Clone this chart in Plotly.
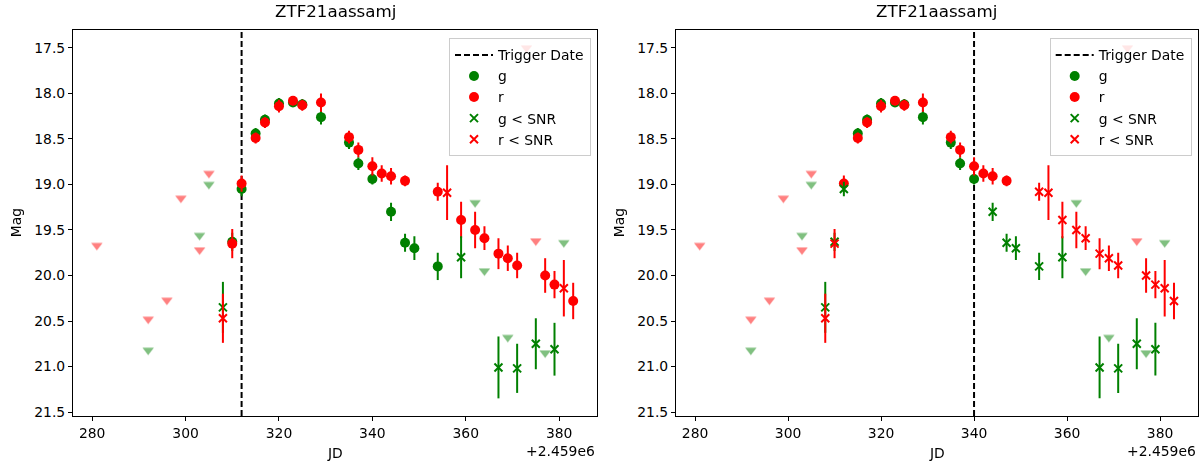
import plotly.graph_objects as go

# ---------------- data ----------------
OBJECT_NAME = "ZTF21aassamj"
OFFSET_TEXT = "+2.459e6"          # JD offset shown by the axis
TRIGGER_JD = [312, 340]           # trigger date for left / right panel (JD - 2459000)

# g-band measurements (JD - 2459000, mag, error)
g_jd  = [308, 310, 312, 315, 317, 320, 323, 325, 329, 335, 337, 340, 344, 347, 349, 354, 359, 367, 371, 375, 379]
g_mag = [20.35, 19.63, 19.05, 18.44, 18.29, 18.11, 18.10, 18.12, 18.26, 18.54, 18.77, 18.94, 19.30, 19.64, 19.70, 19.90, 19.80, 21.01, 21.02, 20.75, 20.81]
g_err = [0.28, 0.10, 0.08, 0.06, 0.06, 0.06, 0.05, 0.06, 0.08, 0.07, 0.07, 0.06, 0.10, 0.10, 0.13, 0.15, 0.23, 0.34, 0.27, 0.28, 0.29]

# r-band measurements
r_jd  = [308, 310, 312, 315, 317, 320, 323, 325, 329, 335, 337, 340, 342, 344, 347, 354, 356, 359, 362, 364, 367, 369, 371, 377, 379, 381, 383]
r_mag = [20.47, 19.65, 18.99, 18.49, 18.32, 18.14, 18.08, 18.13, 18.10, 18.48, 18.62, 18.80, 18.88, 18.91, 18.96, 19.08, 19.09, 19.39, 19.50, 19.59, 19.76, 19.81, 19.89, 20.00, 20.10, 20.14, 20.28]
r_err = [0.27, 0.16, 0.09, 0.06, 0.06, 0.07, 0.05, 0.06, 0.10, 0.07, 0.08, 0.10, 0.09, 0.09, 0.06, 0.10, 0.30, 0.20, 0.20, 0.13, 0.17, 0.14, 0.14, 0.19, 0.15, 0.31, 0.20]

# upper limits (non-detections)
g_lim_jd  = [292, 303, 305, 362, 364, 369, 377, 381]
g_lim_mag = [20.82, 19.56, 19.00, 19.20, 19.95, 20.68, 20.85, 19.64]
r_lim_jd  = [281, 292, 296, 299, 303, 305, 373, 375]
r_lim_mag = [19.67, 20.48, 20.27, 19.15, 19.72, 18.88, 17.50, 19.62]

# epochs flagged "< SNR" in each panel
g_low = [
    [308, 359, 367, 371, 375, 379],
    [308, 310, 312, 344, 347, 349, 354, 359, 367, 371, 375, 379],
]
r_low = [
    [308, 356, 381],
    [308, 310, 354, 356, 359, 362, 364, 367, 369, 371, 377, 379, 381, 383],
]

X_TICKS = [280, 300, 320, 340, 360, 380]
Y_TICKS = [17.5, 18.0, 18.5, 19.0, 19.5, 20.0, 20.5, 21.0, 21.5]

# ---------------- styling ----------------
W, H = 1199, 465
FONT = "DejaVu Sans"
FS = 13.9
GREEN = "#008000"
RED = "#ff0000"

X_DOMAINS = [[73 / W, 597 / W], [676 / W, 1197.7 / W]]
Y_DOMAIN = [1 - 419.5 / H, 1 - 30.7 / H]

# axis ranges like matplotlib autoscale (5% margins)
all_x = g_jd + r_jd + g_lim_jd + r_lim_jd
xmin, xmax = min(all_x), max(all_x)
xm = 0.05 * (xmax - xmin)
x_range = [xmin - xm, xmax + xm]
ylo_vals = [m - e for m, e in zip(g_mag, g_err)] + [m - e for m, e in zip(r_mag, r_err)] + g_lim_mag + r_lim_mag
yhi_vals = [m + e for m, e in zip(g_mag, g_err)] + [m + e for m, e in zip(r_mag, r_err)] + g_lim_mag + r_lim_mag
ymin, ymax = min(ylo_vals), max(yhi_vals)
ym = 0.05 * (ymax - ymin)
y_range = [ymax + ym, ymin - ym]   # reversed (magnitudes)


def split(jd, mag, err, low):
    hi = [(j, m, e) for j, m, e in zip(jd, mag, err) if j not in low]
    lo = [(j, m, e) for j, m, e in zip(jd, mag, err) if j in low]
    return hi, lo


fig = go.Figure()

for p in range(2):
    xa = "x" if p == 0 else "x2"
    ya = "y" if p == 0 else "y2"
    leg = "legend" if p == 0 else "legend2"

    fig.add_trace(go.Scatter(
        x=[TRIGGER_JD[p], TRIGGER_JD[p]], y=[y_range[0], y_range[1]],
        mode="lines", line=dict(color="black", width=2, dash="6px,3px"),
        name="Trigger Date", xaxis=xa, yaxis=ya, legend=leg, hoverinfo="skip"))

    g_hi, g_lo = split(g_jd, g_mag, g_err, g_low[p])
    r_hi, r_lo = split(r_jd, r_mag, r_err, r_low[p])

    for pts, col, name in [(g_hi, GREEN, "g"), (r_hi, RED, "r")]:
        fig.add_trace(go.Scatter(
            x=[a[0] for a in pts], y=[a[1] for a in pts], mode="markers",
            marker=dict(symbol="circle", size=10, color=col),
            error_y=dict(type="data", array=[a[2] for a in pts], visible=True,
                         thickness=2, width=0, color=col),
            name=name, xaxis=xa, yaxis=ya, legend=leg))

    for pts, col, name in [(g_lo, GREEN, "g < SNR"), (r_lo, RED, "r < SNR")]:
        fig.add_trace(go.Scatter(
            x=[a[0] for a in pts], y=[a[1] for a in pts], mode="markers",
            marker=dict(symbol="x-thin", size=8, color=col, line=dict(width=2, color=col)),
            error_y=dict(type="data", array=[a[2] for a in pts], visible=True,
                         thickness=2, width=0, color=col),
            name=name, xaxis=xa, yaxis=ya, legend=leg))

    for jd, mag, col in [(g_lim_jd, g_lim_mag, GREEN), (r_lim_jd, r_lim_mag, RED)]:
        fig.add_trace(go.Scatter(
            x=jd, y=mag, mode="markers",
            marker=dict(symbol="triangle-down", size=10, color=col),
            opacity=0.5, showlegend=False, xaxis=xa, yaxis=ya))

axis_common = dict(showline=True, linecolor="black", linewidth=1, mirror=True,
                   ticks="outside", ticklen=4, tickwidth=1, tickcolor="black",
                   showgrid=False, zeroline=False,
                   tickfont=dict(family=FONT, size=FS, color="black"))

layout_axes = {}
for p in range(2):
    sx = "" if p == 0 else "2"
    layout_axes["xaxis" + sx] = dict(domain=X_DOMAINS[p], range=x_range, anchor="y" + sx,
                                     tickvals=X_TICKS, **axis_common)
    layout_axes["yaxis" + sx] = dict(domain=Y_DOMAIN, range=y_range, anchor="x" + sx,
                                     tickvals=Y_TICKS, tickformat=".1f", **axis_common)

annotations = []
for p in range(2):
    x0, x1 = X_DOMAINS[p]
    cx = (x0 + x1) / 2
    annotations.append(dict(text=OBJECT_NAME, x=cx, y=1 - 23 / H, xref="paper", yref="paper",
                            xanchor="center", yanchor="bottom", showarrow=False,
                            font=dict(family=FONT, size=16.7, color="black")))
    annotations.append(dict(text="JD", x=cx, y=1 - 457 / H, xref="paper", yref="paper",
                            xanchor="center", yanchor="middle", showarrow=False,
                            font=dict(family=FONT, size=FS, color="black")))
    annotations.append(dict(text=OFFSET_TEXT, x=x1, y=1 - 455 / H, xref="paper", yref="paper",
                            xanchor="right", yanchor="middle", showarrow=False,
                            font=dict(family=FONT, size=FS, color="black")))
    annotations.append(dict(text="Mag", x=x0 - 57 / W, y=(Y_DOMAIN[0] + Y_DOMAIN[1]) / 2,
                            xref="paper", yref="paper", textangle=-90,
                            xanchor="center", yanchor="middle", showarrow=False,
                            font=dict(family=FONT, size=FS, color="black")))

legend_common = dict(xanchor="right", yanchor="top", bgcolor="rgba(255,255,255,0.8)",
                     bordercolor="#cccccc", borderwidth=1,
                     font=dict(family=FONT, size=FS, color="black"),
                     itemwidth=38, tracegroupgap=0)

fig.update_layout(
    width=W, height=H,
    margin=dict(l=0, r=0, t=0, b=0),
    paper_bgcolor="white", plot_bgcolor="white",
    font=dict(family=FONT, size=FS, color="black"),
    legend=dict(x=591 / W, y=1 - 38.7 / H, **legend_common),
    legend2=dict(x=1191.7 / W, y=1 - 38.7 / H, **legend_common),
    annotations=annotations,
    **layout_axes,
)

fig.write_html("out.html",
               config={"displayModeBar": False},
               post_script="document.body.style.margin='0';document.body.style.padding='0';"
                           "document.documentElement.style.overflow='hidden';")
